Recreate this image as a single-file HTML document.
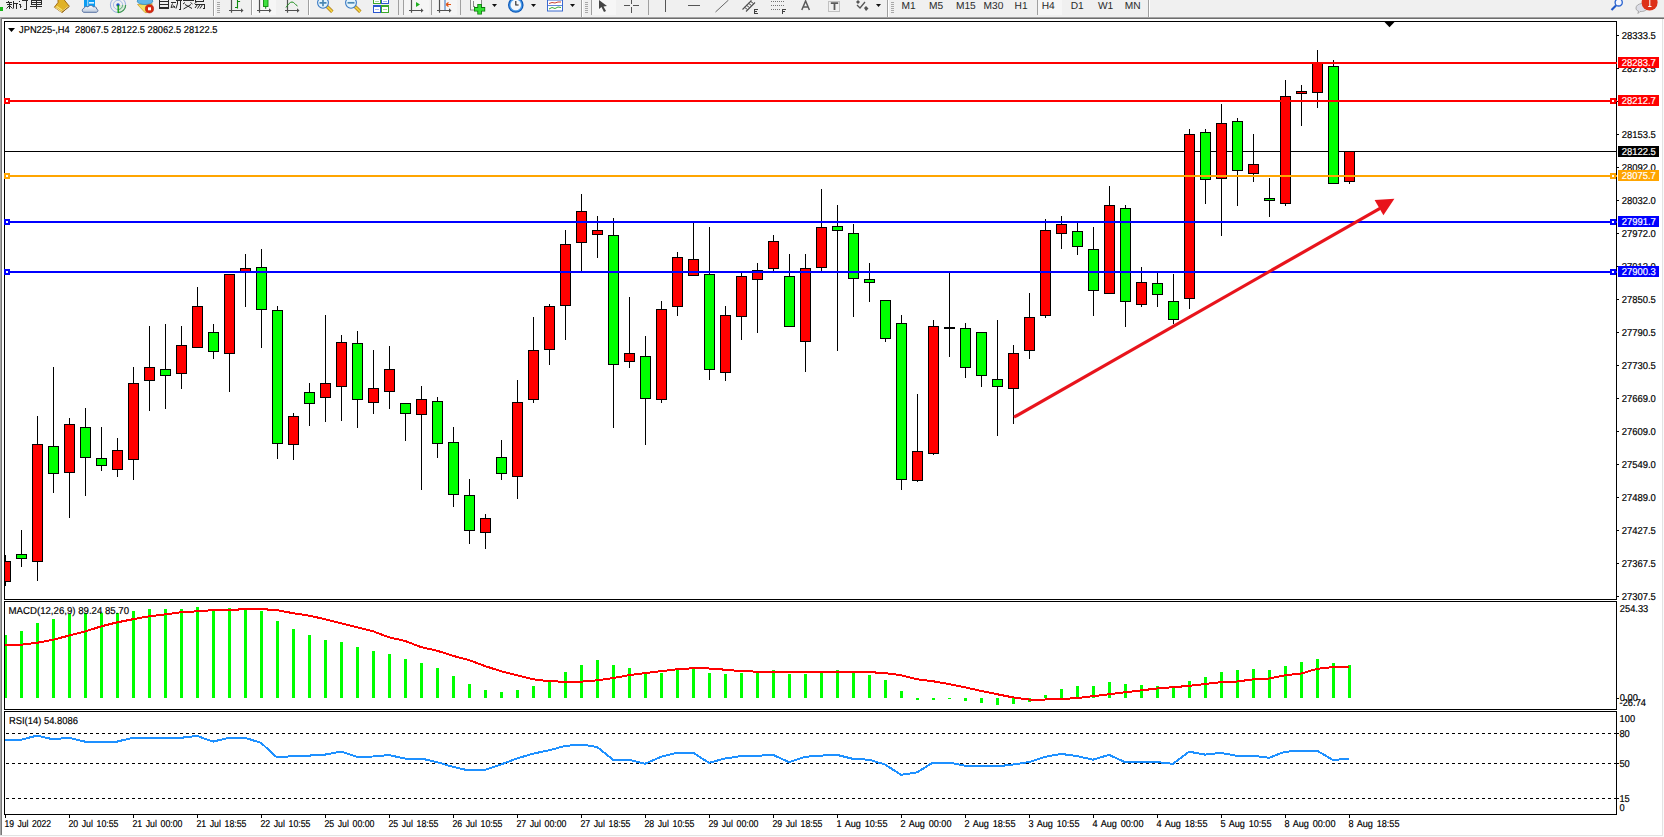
<!DOCTYPE html>
<html><head><meta charset="utf-8"><title>JPN225 H4</title>
<style>
html,body{margin:0;padding:0;background:#f0f0f0;}
body{width:1664px;height:837px;overflow:hidden;}
svg{display:block;font-family:"Liberation Sans", sans-serif;text-rendering:geometricPrecision;}
</style></head>
<body>
<svg width="1664" height="837" viewBox="0 0 1664 837" shape-rendering="crispEdges">
<rect x="0" y="0" width="1664" height="837" fill="#f0f0f0"/>
<rect x="0" y="17" width="1664" height="1" fill="#a3a3a3"/>
<rect x="0" y="18" width="1664" height="1" fill="#6d6d6d"/>
<rect x="0" y="19" width="1662" height="816" fill="#ffffff"/>
<rect x="0" y="17" width="1" height="818" fill="#a5a5a5"/>
<rect x="1" y="18" width="1" height="817" fill="#777777"/>
<rect x="1663" y="19" width="1" height="818" fill="#fbfbfb"/>
<rect x="0" y="836" width="1664" height="1" fill="#fbfbfb"/>
<rect x="1662" y="19" width="1" height="817" fill="#e3e3e3"/>
<rect x="0" y="835" width="1663" height="1" fill="#e3e3e3"/>
<rect x="4" y="21" width="1613" height="1" fill="#000"/>
<rect x="4" y="599" width="1613" height="1" fill="#000"/>
<rect x="4" y="21" width="1" height="579" fill="#000"/>
<rect x="1616" y="21" width="1" height="579" fill="#000"/>
<rect x="4" y="601" width="1613" height="1" fill="#000"/>
<rect x="4" y="709" width="1613" height="1" fill="#000"/>
<rect x="4" y="601" width="1" height="109" fill="#000"/>
<rect x="1616" y="601" width="1" height="109" fill="#000"/>
<rect x="4" y="711" width="1613" height="1" fill="#000"/>
<rect x="4" y="814" width="1613" height="1" fill="#000"/>
<rect x="4" y="711" width="1" height="104" fill="#000"/>
<rect x="1616" y="711" width="1" height="104" fill="#000"/>
<rect x="1617" y="35" width="2" height="1" fill="#000"/>
<text transform="translate(1621.7 39) scale(0.945 1)" font-size="10" fill="#000" stroke="#000" stroke-width="0.18" text-anchor="start">28333.5</text>
<rect x="1617" y="68" width="2" height="1" fill="#000"/>
<text transform="translate(1621.7 72) scale(0.945 1)" font-size="10" fill="#000" stroke="#000" stroke-width="0.18" text-anchor="start">28273.5</text>
<rect x="1617" y="101" width="2" height="1" fill="#000"/>
<text transform="translate(1621.7 105) scale(0.945 1)" font-size="10" fill="#000" stroke="#000" stroke-width="0.18" text-anchor="start">28213.5</text>
<rect x="1617" y="134" width="2" height="1" fill="#000"/>
<text transform="translate(1621.7 138) scale(0.945 1)" font-size="10" fill="#000" stroke="#000" stroke-width="0.18" text-anchor="start">28153.5</text>
<rect x="1617" y="167" width="2" height="1" fill="#000"/>
<text transform="translate(1621.7 171) scale(0.945 1)" font-size="10" fill="#000" stroke="#000" stroke-width="0.18" text-anchor="start">28092.0</text>
<rect x="1617" y="200" width="2" height="1" fill="#000"/>
<text transform="translate(1621.7 204) scale(0.945 1)" font-size="10" fill="#000" stroke="#000" stroke-width="0.18" text-anchor="start">28032.0</text>
<rect x="1617" y="233" width="2" height="1" fill="#000"/>
<text transform="translate(1621.7 237) scale(0.945 1)" font-size="10" fill="#000" stroke="#000" stroke-width="0.18" text-anchor="start">27972.0</text>
<rect x="1617" y="266" width="2" height="1" fill="#000"/>
<text transform="translate(1621.7 270) scale(0.945 1)" font-size="10" fill="#000" stroke="#000" stroke-width="0.18" text-anchor="start">27912.0</text>
<rect x="1617" y="299" width="2" height="1" fill="#000"/>
<text transform="translate(1621.7 303) scale(0.945 1)" font-size="10" fill="#000" stroke="#000" stroke-width="0.18" text-anchor="start">27850.5</text>
<rect x="1617" y="332" width="2" height="1" fill="#000"/>
<text transform="translate(1621.7 336) scale(0.945 1)" font-size="10" fill="#000" stroke="#000" stroke-width="0.18" text-anchor="start">27790.5</text>
<rect x="1617" y="365" width="2" height="1" fill="#000"/>
<text transform="translate(1621.7 369) scale(0.945 1)" font-size="10" fill="#000" stroke="#000" stroke-width="0.18" text-anchor="start">27730.5</text>
<rect x="1617" y="398" width="2" height="1" fill="#000"/>
<text transform="translate(1621.7 402) scale(0.945 1)" font-size="10" fill="#000" stroke="#000" stroke-width="0.18" text-anchor="start">27669.0</text>
<rect x="1617" y="431" width="2" height="1" fill="#000"/>
<text transform="translate(1621.7 435) scale(0.945 1)" font-size="10" fill="#000" stroke="#000" stroke-width="0.18" text-anchor="start">27609.0</text>
<rect x="1617" y="464" width="2" height="1" fill="#000"/>
<text transform="translate(1621.7 468) scale(0.945 1)" font-size="10" fill="#000" stroke="#000" stroke-width="0.18" text-anchor="start">27549.0</text>
<rect x="1617" y="497" width="2" height="1" fill="#000"/>
<text transform="translate(1621.7 501) scale(0.945 1)" font-size="10" fill="#000" stroke="#000" stroke-width="0.18" text-anchor="start">27489.0</text>
<rect x="1617" y="530" width="2" height="1" fill="#000"/>
<text transform="translate(1621.7 534) scale(0.945 1)" font-size="10" fill="#000" stroke="#000" stroke-width="0.18" text-anchor="start">27427.5</text>
<rect x="1617" y="563" width="2" height="1" fill="#000"/>
<text transform="translate(1621.7 567) scale(0.945 1)" font-size="10" fill="#000" stroke="#000" stroke-width="0.18" text-anchor="start">27367.5</text>
<rect x="1617" y="596" width="2" height="1" fill="#000"/>
<text transform="translate(1621.7 600) scale(0.945 1)" font-size="10" fill="#000" stroke="#000" stroke-width="0.18" text-anchor="start">27307.5</text>
<rect x="5" y="151" width="1611" height="1" fill="#000"/>
<rect x="5" y="555" width="1" height="31" fill="#000"/>
<rect x="5" y="561" width="6" height="21" fill="#000"/>
<rect x="5" y="562" width="5" height="19" fill="#ff0000"/>
<rect x="21" y="530" width="1" height="37" fill="#000"/>
<rect x="16" y="554" width="11" height="5" fill="#000"/>
<rect x="17" y="555" width="9" height="3" fill="#00ff00"/>
<rect x="37" y="416" width="1" height="165" fill="#000"/>
<rect x="32" y="444" width="11" height="118" fill="#000"/>
<rect x="33" y="445" width="9" height="116" fill="#ff0000"/>
<rect x="53" y="367" width="1" height="126" fill="#000"/>
<rect x="48" y="446" width="11" height="28" fill="#000"/>
<rect x="49" y="447" width="9" height="26" fill="#00ff00"/>
<rect x="69" y="418" width="1" height="100" fill="#000"/>
<rect x="64" y="424" width="11" height="49" fill="#000"/>
<rect x="65" y="425" width="9" height="47" fill="#ff0000"/>
<rect x="85" y="408" width="1" height="88" fill="#000"/>
<rect x="80" y="427" width="11" height="31" fill="#000"/>
<rect x="81" y="428" width="9" height="29" fill="#00ff00"/>
<rect x="101" y="427" width="1" height="44" fill="#000"/>
<rect x="96" y="458" width="11" height="8" fill="#000"/>
<rect x="97" y="459" width="9" height="6" fill="#00ff00"/>
<rect x="117" y="438" width="1" height="39" fill="#000"/>
<rect x="112" y="450" width="11" height="20" fill="#000"/>
<rect x="113" y="451" width="9" height="18" fill="#ff0000"/>
<rect x="133" y="367" width="1" height="113" fill="#000"/>
<rect x="128" y="383" width="11" height="77" fill="#000"/>
<rect x="129" y="384" width="9" height="75" fill="#ff0000"/>
<rect x="149" y="326" width="1" height="85" fill="#000"/>
<rect x="144" y="367" width="11" height="14" fill="#000"/>
<rect x="145" y="368" width="9" height="12" fill="#ff0000"/>
<rect x="165" y="324" width="1" height="85" fill="#000"/>
<rect x="160" y="369" width="11" height="7" fill="#000"/>
<rect x="161" y="370" width="9" height="5" fill="#00ff00"/>
<rect x="181" y="326" width="1" height="63" fill="#000"/>
<rect x="176" y="345" width="11" height="29" fill="#000"/>
<rect x="177" y="346" width="9" height="27" fill="#ff0000"/>
<rect x="197" y="287" width="1" height="61" fill="#000"/>
<rect x="192" y="306" width="11" height="42" fill="#000"/>
<rect x="193" y="307" width="9" height="40" fill="#ff0000"/>
<rect x="213" y="324" width="1" height="35" fill="#000"/>
<rect x="208" y="332" width="11" height="20" fill="#000"/>
<rect x="209" y="333" width="9" height="18" fill="#00ff00"/>
<rect x="229" y="274" width="1" height="118" fill="#000"/>
<rect x="224" y="274" width="11" height="80" fill="#000"/>
<rect x="225" y="275" width="9" height="78" fill="#ff0000"/>
<rect x="245" y="254" width="1" height="53" fill="#000"/>
<rect x="240" y="268" width="11" height="4" fill="#000"/>
<rect x="241" y="269" width="9" height="2" fill="#ff0000"/>
<rect x="261" y="249" width="1" height="99" fill="#000"/>
<rect x="256" y="267" width="11" height="43" fill="#000"/>
<rect x="257" y="268" width="9" height="41" fill="#00ff00"/>
<rect x="277" y="306" width="1" height="153" fill="#000"/>
<rect x="272" y="310" width="11" height="134" fill="#000"/>
<rect x="273" y="311" width="9" height="132" fill="#00ff00"/>
<rect x="293" y="413" width="1" height="47" fill="#000"/>
<rect x="288" y="416" width="11" height="29" fill="#000"/>
<rect x="289" y="417" width="9" height="27" fill="#ff0000"/>
<rect x="309" y="383" width="1" height="43" fill="#000"/>
<rect x="304" y="392" width="11" height="12" fill="#000"/>
<rect x="305" y="393" width="9" height="10" fill="#00ff00"/>
<rect x="325" y="315" width="1" height="107" fill="#000"/>
<rect x="320" y="383" width="11" height="15" fill="#000"/>
<rect x="321" y="384" width="9" height="13" fill="#ff0000"/>
<rect x="341" y="335" width="1" height="86" fill="#000"/>
<rect x="336" y="342" width="11" height="45" fill="#000"/>
<rect x="337" y="343" width="9" height="43" fill="#ff0000"/>
<rect x="357" y="331" width="1" height="97" fill="#000"/>
<rect x="352" y="343" width="11" height="57" fill="#000"/>
<rect x="353" y="344" width="9" height="55" fill="#00ff00"/>
<rect x="373" y="350" width="1" height="64" fill="#000"/>
<rect x="368" y="388" width="11" height="15" fill="#000"/>
<rect x="369" y="389" width="9" height="13" fill="#ff0000"/>
<rect x="389" y="346" width="1" height="63" fill="#000"/>
<rect x="384" y="369" width="11" height="23" fill="#000"/>
<rect x="385" y="370" width="9" height="21" fill="#ff0000"/>
<rect x="405" y="403" width="1" height="38" fill="#000"/>
<rect x="400" y="403" width="11" height="11" fill="#000"/>
<rect x="401" y="404" width="9" height="9" fill="#00ff00"/>
<rect x="421" y="386" width="1" height="104" fill="#000"/>
<rect x="416" y="399" width="11" height="16" fill="#000"/>
<rect x="417" y="400" width="9" height="14" fill="#ff0000"/>
<rect x="437" y="397" width="1" height="61" fill="#000"/>
<rect x="432" y="401" width="11" height="43" fill="#000"/>
<rect x="433" y="402" width="9" height="41" fill="#00ff00"/>
<rect x="453" y="427" width="1" height="80" fill="#000"/>
<rect x="448" y="442" width="11" height="53" fill="#000"/>
<rect x="449" y="443" width="9" height="51" fill="#00ff00"/>
<rect x="469" y="479" width="1" height="65" fill="#000"/>
<rect x="464" y="495" width="11" height="36" fill="#000"/>
<rect x="465" y="496" width="9" height="34" fill="#00ff00"/>
<rect x="485" y="514" width="1" height="35" fill="#000"/>
<rect x="480" y="518" width="11" height="15" fill="#000"/>
<rect x="481" y="519" width="9" height="13" fill="#ff0000"/>
<rect x="501" y="440" width="1" height="40" fill="#000"/>
<rect x="496" y="457" width="11" height="17" fill="#000"/>
<rect x="497" y="458" width="9" height="15" fill="#00ff00"/>
<rect x="517" y="380" width="1" height="119" fill="#000"/>
<rect x="512" y="402" width="11" height="75" fill="#000"/>
<rect x="513" y="403" width="9" height="73" fill="#ff0000"/>
<rect x="533" y="317" width="1" height="86" fill="#000"/>
<rect x="528" y="350" width="11" height="50" fill="#000"/>
<rect x="529" y="351" width="9" height="48" fill="#ff0000"/>
<rect x="549" y="304" width="1" height="61" fill="#000"/>
<rect x="544" y="306" width="11" height="44" fill="#000"/>
<rect x="545" y="307" width="9" height="42" fill="#ff0000"/>
<rect x="565" y="230" width="1" height="110" fill="#000"/>
<rect x="560" y="244" width="11" height="62" fill="#000"/>
<rect x="561" y="245" width="9" height="60" fill="#ff0000"/>
<rect x="581" y="194" width="1" height="78" fill="#000"/>
<rect x="576" y="211" width="11" height="32" fill="#000"/>
<rect x="577" y="212" width="9" height="30" fill="#ff0000"/>
<rect x="597" y="216" width="1" height="42" fill="#000"/>
<rect x="592" y="230" width="11" height="5" fill="#000"/>
<rect x="593" y="231" width="9" height="3" fill="#ff0000"/>
<rect x="613" y="218" width="1" height="210" fill="#000"/>
<rect x="608" y="235" width="11" height="130" fill="#000"/>
<rect x="609" y="236" width="9" height="128" fill="#00ff00"/>
<rect x="629" y="297" width="1" height="71" fill="#000"/>
<rect x="624" y="353" width="11" height="9" fill="#000"/>
<rect x="625" y="354" width="9" height="7" fill="#ff0000"/>
<rect x="645" y="336" width="1" height="109" fill="#000"/>
<rect x="640" y="356" width="11" height="43" fill="#000"/>
<rect x="641" y="357" width="9" height="41" fill="#00ff00"/>
<rect x="661" y="301" width="1" height="102" fill="#000"/>
<rect x="656" y="309" width="11" height="91" fill="#000"/>
<rect x="657" y="310" width="9" height="89" fill="#ff0000"/>
<rect x="677" y="252" width="1" height="64" fill="#000"/>
<rect x="672" y="257" width="11" height="50" fill="#000"/>
<rect x="673" y="258" width="9" height="48" fill="#ff0000"/>
<rect x="693" y="222" width="1" height="54" fill="#000"/>
<rect x="688" y="259" width="11" height="17" fill="#000"/>
<rect x="689" y="260" width="9" height="15" fill="#ff0000"/>
<rect x="709" y="227" width="1" height="153" fill="#000"/>
<rect x="704" y="274" width="11" height="96" fill="#000"/>
<rect x="705" y="275" width="9" height="94" fill="#00ff00"/>
<rect x="725" y="306" width="1" height="75" fill="#000"/>
<rect x="720" y="315" width="11" height="58" fill="#000"/>
<rect x="721" y="316" width="9" height="56" fill="#ff0000"/>
<rect x="741" y="272" width="1" height="68" fill="#000"/>
<rect x="736" y="276" width="11" height="41" fill="#000"/>
<rect x="737" y="277" width="9" height="39" fill="#ff0000"/>
<rect x="757" y="263" width="1" height="70" fill="#000"/>
<rect x="752" y="270" width="11" height="10" fill="#000"/>
<rect x="753" y="271" width="9" height="8" fill="#ff0000"/>
<rect x="773" y="235" width="1" height="36" fill="#000"/>
<rect x="768" y="241" width="11" height="28" fill="#000"/>
<rect x="769" y="242" width="9" height="26" fill="#ff0000"/>
<rect x="789" y="254" width="1" height="73" fill="#000"/>
<rect x="784" y="276" width="11" height="51" fill="#000"/>
<rect x="785" y="277" width="9" height="49" fill="#00ff00"/>
<rect x="805" y="254" width="1" height="118" fill="#000"/>
<rect x="800" y="268" width="11" height="74" fill="#000"/>
<rect x="801" y="269" width="9" height="72" fill="#ff0000"/>
<rect x="821" y="189" width="1" height="82" fill="#000"/>
<rect x="816" y="227" width="11" height="41" fill="#000"/>
<rect x="817" y="228" width="9" height="39" fill="#ff0000"/>
<rect x="837" y="205" width="1" height="146" fill="#000"/>
<rect x="832" y="226" width="11" height="5" fill="#000"/>
<rect x="833" y="227" width="9" height="3" fill="#00ff00"/>
<rect x="853" y="224" width="1" height="93" fill="#000"/>
<rect x="848" y="233" width="11" height="46" fill="#000"/>
<rect x="849" y="234" width="9" height="44" fill="#00ff00"/>
<rect x="869" y="263" width="1" height="39" fill="#000"/>
<rect x="864" y="279" width="11" height="4" fill="#000"/>
<rect x="865" y="280" width="9" height="2" fill="#00ff00"/>
<rect x="885" y="300" width="1" height="42" fill="#000"/>
<rect x="880" y="300" width="11" height="39" fill="#000"/>
<rect x="881" y="301" width="9" height="37" fill="#00ff00"/>
<rect x="901" y="315" width="1" height="175" fill="#000"/>
<rect x="896" y="323" width="11" height="157" fill="#000"/>
<rect x="897" y="324" width="9" height="155" fill="#00ff00"/>
<rect x="917" y="394" width="1" height="88" fill="#000"/>
<rect x="912" y="451" width="11" height="30" fill="#000"/>
<rect x="913" y="452" width="9" height="28" fill="#ff0000"/>
<rect x="933" y="320" width="1" height="135" fill="#000"/>
<rect x="928" y="326" width="11" height="128" fill="#000"/>
<rect x="929" y="327" width="9" height="126" fill="#ff0000"/>
<rect x="949" y="272" width="1" height="85" fill="#000"/>
<rect x="944" y="327" width="11" height="2" fill="#000"/>
<rect x="965" y="323" width="1" height="55" fill="#000"/>
<rect x="960" y="328" width="11" height="40" fill="#000"/>
<rect x="961" y="329" width="9" height="38" fill="#00ff00"/>
<rect x="981" y="332" width="1" height="55" fill="#000"/>
<rect x="976" y="332" width="11" height="44" fill="#000"/>
<rect x="977" y="333" width="9" height="42" fill="#00ff00"/>
<rect x="997" y="320" width="1" height="116" fill="#000"/>
<rect x="992" y="379" width="11" height="8" fill="#000"/>
<rect x="993" y="380" width="9" height="6" fill="#00ff00"/>
<rect x="1013" y="345" width="1" height="79" fill="#000"/>
<rect x="1008" y="353" width="11" height="36" fill="#000"/>
<rect x="1009" y="354" width="9" height="34" fill="#ff0000"/>
<rect x="1029" y="293" width="1" height="66" fill="#000"/>
<rect x="1024" y="317" width="11" height="34" fill="#000"/>
<rect x="1025" y="318" width="9" height="32" fill="#ff0000"/>
<rect x="1045" y="219" width="1" height="99" fill="#000"/>
<rect x="1040" y="230" width="11" height="86" fill="#000"/>
<rect x="1041" y="231" width="9" height="84" fill="#ff0000"/>
<rect x="1061" y="216" width="1" height="33" fill="#000"/>
<rect x="1056" y="224" width="11" height="10" fill="#000"/>
<rect x="1057" y="225" width="9" height="8" fill="#ff0000"/>
<rect x="1077" y="223" width="1" height="32" fill="#000"/>
<rect x="1072" y="231" width="11" height="16" fill="#000"/>
<rect x="1073" y="232" width="9" height="14" fill="#00ff00"/>
<rect x="1093" y="227" width="1" height="89" fill="#000"/>
<rect x="1088" y="249" width="11" height="42" fill="#000"/>
<rect x="1089" y="250" width="9" height="40" fill="#00ff00"/>
<rect x="1109" y="186" width="1" height="108" fill="#000"/>
<rect x="1104" y="205" width="11" height="89" fill="#000"/>
<rect x="1105" y="206" width="9" height="87" fill="#ff0000"/>
<rect x="1125" y="205" width="1" height="122" fill="#000"/>
<rect x="1120" y="208" width="11" height="94" fill="#000"/>
<rect x="1121" y="209" width="9" height="92" fill="#00ff00"/>
<rect x="1141" y="267" width="1" height="40" fill="#000"/>
<rect x="1136" y="282" width="11" height="23" fill="#000"/>
<rect x="1137" y="283" width="9" height="21" fill="#ff0000"/>
<rect x="1157" y="273" width="1" height="34" fill="#000"/>
<rect x="1152" y="283" width="11" height="12" fill="#000"/>
<rect x="1153" y="284" width="9" height="10" fill="#00ff00"/>
<rect x="1173" y="274" width="1" height="50" fill="#000"/>
<rect x="1168" y="301" width="11" height="19" fill="#000"/>
<rect x="1169" y="302" width="9" height="17" fill="#00ff00"/>
<rect x="1189" y="129" width="1" height="180" fill="#000"/>
<rect x="1184" y="134" width="11" height="165" fill="#000"/>
<rect x="1185" y="135" width="9" height="163" fill="#ff0000"/>
<rect x="1205" y="129" width="1" height="75" fill="#000"/>
<rect x="1200" y="132" width="11" height="48" fill="#000"/>
<rect x="1201" y="133" width="9" height="46" fill="#00ff00"/>
<rect x="1221" y="104" width="1" height="132" fill="#000"/>
<rect x="1216" y="123" width="11" height="56" fill="#000"/>
<rect x="1217" y="124" width="9" height="54" fill="#ff0000"/>
<rect x="1237" y="118" width="1" height="88" fill="#000"/>
<rect x="1232" y="121" width="11" height="50" fill="#000"/>
<rect x="1233" y="122" width="9" height="48" fill="#00ff00"/>
<rect x="1253" y="134" width="1" height="48" fill="#000"/>
<rect x="1248" y="164" width="11" height="10" fill="#000"/>
<rect x="1249" y="165" width="9" height="8" fill="#ff0000"/>
<rect x="1269" y="178" width="1" height="39" fill="#000"/>
<rect x="1264" y="198" width="11" height="3" fill="#000"/>
<rect x="1265" y="199" width="9" height="1" fill="#00ff00"/>
<rect x="1285" y="80" width="1" height="126" fill="#000"/>
<rect x="1280" y="96" width="11" height="108" fill="#000"/>
<rect x="1281" y="97" width="9" height="106" fill="#ff0000"/>
<rect x="1301" y="85" width="1" height="41" fill="#000"/>
<rect x="1296" y="91" width="11" height="3" fill="#000"/>
<rect x="1297" y="92" width="9" height="1" fill="#ff0000"/>
<rect x="1317" y="50" width="1" height="58" fill="#000"/>
<rect x="1312" y="63" width="11" height="30" fill="#000"/>
<rect x="1313" y="64" width="9" height="28" fill="#ff0000"/>
<rect x="1333" y="60" width="1" height="124" fill="#000"/>
<rect x="1328" y="66" width="11" height="118" fill="#000"/>
<rect x="1329" y="67" width="9" height="116" fill="#00ff00"/>
<rect x="1349" y="151" width="1" height="33" fill="#000"/>
<rect x="1344" y="151" width="11" height="31" fill="#000"/>
<rect x="1345" y="152" width="9" height="29" fill="#ff0000"/>
<rect x="5" y="62" width="1612" height="2" fill="#ff0000"/>
<rect x="5" y="100" width="1612" height="2" fill="#ff0000"/>
<rect x="4" y="98" width="6" height="6" fill="#ff0000"/>
<rect x="6" y="100" width="2" height="2" fill="#fff"/>
<rect x="1610" y="98" width="6" height="6" fill="#ff0000"/>
<rect x="1612" y="100" width="2" height="2" fill="#fff"/>
<rect x="5" y="175" width="1612" height="2" fill="#ffa500"/>
<rect x="4" y="173" width="6" height="6" fill="#ffa500"/>
<rect x="6" y="175" width="2" height="2" fill="#fff"/>
<rect x="1610" y="173" width="6" height="6" fill="#ffa500"/>
<rect x="1612" y="175" width="2" height="2" fill="#fff"/>
<rect x="5" y="221" width="1612" height="2" fill="#0000ff"/>
<rect x="4" y="219" width="6" height="6" fill="#0000ff"/>
<rect x="6" y="221" width="2" height="2" fill="#fff"/>
<rect x="1610" y="219" width="6" height="6" fill="#0000ff"/>
<rect x="1612" y="221" width="2" height="2" fill="#fff"/>
<rect x="5" y="271" width="1612" height="2" fill="#0000ff"/>
<rect x="4" y="269" width="6" height="6" fill="#0000ff"/>
<rect x="6" y="271" width="2" height="2" fill="#fff"/>
<rect x="1610" y="269" width="6" height="6" fill="#0000ff"/>
<rect x="1612" y="271" width="2" height="2" fill="#fff"/>
<g shape-rendering="auto">
<line x1="1014" y1="417.2" x2="1380" y2="208.4" stroke="#e8141c" stroke-width="3.2"/>
<polygon points="1374.6,200 1394.4,198.8 1383.4,215.2" fill="#e8141c"/>
</g>
<polygon points="1384.5,22 1394.5,22 1389.5,27.3" fill="#000" shape-rendering="auto"/>
<rect x="1618" y="57" width="41" height="11" fill="#ff0000"/>
<text transform="translate(1621.7 66) scale(0.945 1)" font-size="10" fill="#fff" stroke="#fff" stroke-width="0.18" text-anchor="start">28283.7</text>
<rect x="1618" y="95" width="41" height="11" fill="#ff0000"/>
<text transform="translate(1621.7 104) scale(0.945 1)" font-size="10" fill="#fff" stroke="#fff" stroke-width="0.18" text-anchor="start">28212.7</text>
<rect x="1618" y="146" width="41" height="11" fill="#000000"/>
<text transform="translate(1621.7 155) scale(0.945 1)" font-size="10" fill="#fff" stroke="#fff" stroke-width="0.18" text-anchor="start">28122.5</text>
<rect x="1618" y="170" width="41" height="11" fill="#ffa500"/>
<text transform="translate(1621.7 179) scale(0.945 1)" font-size="10" fill="#fff" stroke="#fff" stroke-width="0.18" text-anchor="start">28075.7</text>
<rect x="1618" y="216" width="41" height="11" fill="#0000ff"/>
<text transform="translate(1621.7 225) scale(0.945 1)" font-size="10" fill="#fff" stroke="#fff" stroke-width="0.18" text-anchor="start">27991.7</text>
<rect x="1618" y="266" width="41" height="11" fill="#0000ff"/>
<text transform="translate(1621.7 275) scale(0.945 1)" font-size="10" fill="#fff" stroke="#fff" stroke-width="0.18" text-anchor="start">27900.3</text>
<polygon points="8,28 15,28 11.5,32" fill="#000" shape-rendering="auto"/>
<text transform="translate(19.0 33) scale(0.932 1)" font-size="10" fill="#000" stroke="#000" stroke-width="0.18" text-anchor="start">JPN225-,H4&#160;&#160;28067.5 28122.5 28062.5 28122.5</text>
<rect x="5" y="635" width="2" height="63" fill="#00ff00"/>
<rect x="20" y="631" width="3" height="67" fill="#00ff00"/>
<rect x="36" y="623" width="3" height="75" fill="#00ff00"/>
<rect x="52" y="619" width="3" height="79" fill="#00ff00"/>
<rect x="68" y="614" width="3" height="84" fill="#00ff00"/>
<rect x="84" y="613" width="3" height="85" fill="#00ff00"/>
<rect x="100" y="613" width="3" height="85" fill="#00ff00"/>
<rect x="116" y="613" width="3" height="85" fill="#00ff00"/>
<rect x="132" y="611" width="3" height="87" fill="#00ff00"/>
<rect x="148" y="609" width="3" height="89" fill="#00ff00"/>
<rect x="164" y="609" width="3" height="89" fill="#00ff00"/>
<rect x="180" y="609" width="3" height="89" fill="#00ff00"/>
<rect x="196" y="607" width="3" height="91" fill="#00ff00"/>
<rect x="212" y="611" width="3" height="87" fill="#00ff00"/>
<rect x="228" y="608" width="3" height="90" fill="#00ff00"/>
<rect x="244" y="608" width="3" height="90" fill="#00ff00"/>
<rect x="260" y="611" width="3" height="87" fill="#00ff00"/>
<rect x="276" y="621" width="3" height="77" fill="#00ff00"/>
<rect x="292" y="629" width="3" height="69" fill="#00ff00"/>
<rect x="308" y="635" width="3" height="63" fill="#00ff00"/>
<rect x="324" y="640" width="3" height="58" fill="#00ff00"/>
<rect x="340" y="642" width="3" height="56" fill="#00ff00"/>
<rect x="356" y="647" width="3" height="51" fill="#00ff00"/>
<rect x="372" y="651" width="3" height="47" fill="#00ff00"/>
<rect x="388" y="654" width="3" height="44" fill="#00ff00"/>
<rect x="404" y="659" width="3" height="39" fill="#00ff00"/>
<rect x="420" y="663" width="3" height="35" fill="#00ff00"/>
<rect x="436" y="668" width="3" height="30" fill="#00ff00"/>
<rect x="452" y="676" width="3" height="22" fill="#00ff00"/>
<rect x="468" y="684" width="3" height="14" fill="#00ff00"/>
<rect x="484" y="690" width="3" height="8" fill="#00ff00"/>
<rect x="500" y="692" width="3" height="6" fill="#00ff00"/>
<rect x="516" y="690" width="3" height="8" fill="#00ff00"/>
<rect x="532" y="686" width="3" height="12" fill="#00ff00"/>
<rect x="548" y="680" width="3" height="18" fill="#00ff00"/>
<rect x="564" y="672" width="3" height="26" fill="#00ff00"/>
<rect x="580" y="665" width="3" height="33" fill="#00ff00"/>
<rect x="596" y="660" width="3" height="38" fill="#00ff00"/>
<rect x="612" y="665" width="3" height="33" fill="#00ff00"/>
<rect x="628" y="668" width="3" height="30" fill="#00ff00"/>
<rect x="644" y="674" width="3" height="24" fill="#00ff00"/>
<rect x="660" y="673" width="3" height="25" fill="#00ff00"/>
<rect x="676" y="670" width="3" height="28" fill="#00ff00"/>
<rect x="692" y="669" width="3" height="29" fill="#00ff00"/>
<rect x="708" y="673" width="3" height="25" fill="#00ff00"/>
<rect x="724" y="674" width="3" height="24" fill="#00ff00"/>
<rect x="740" y="673" width="3" height="25" fill="#00ff00"/>
<rect x="756" y="672" width="3" height="26" fill="#00ff00"/>
<rect x="772" y="670" width="3" height="28" fill="#00ff00"/>
<rect x="788" y="674" width="3" height="24" fill="#00ff00"/>
<rect x="804" y="674" width="3" height="24" fill="#00ff00"/>
<rect x="820" y="672" width="3" height="26" fill="#00ff00"/>
<rect x="836" y="670" width="3" height="28" fill="#00ff00"/>
<rect x="852" y="672" width="3" height="26" fill="#00ff00"/>
<rect x="868" y="675" width="3" height="23" fill="#00ff00"/>
<rect x="884" y="680" width="3" height="18" fill="#00ff00"/>
<rect x="900" y="691" width="3" height="7" fill="#00ff00"/>
<rect x="916" y="698" width="3" height="2" fill="#00ff00"/>
<rect x="932" y="698" width="3" height="2" fill="#00ff00"/>
<rect x="948" y="698" width="3" height="1" fill="#00ff00"/>
<rect x="964" y="698" width="3" height="3" fill="#00ff00"/>
<rect x="980" y="698" width="3" height="5" fill="#00ff00"/>
<rect x="996" y="698" width="3" height="7" fill="#00ff00"/>
<rect x="1012" y="698" width="3" height="6" fill="#00ff00"/>
<rect x="1028" y="698" width="3" height="4" fill="#00ff00"/>
<rect x="1044" y="695" width="3" height="3" fill="#00ff00"/>
<rect x="1060" y="689" width="3" height="9" fill="#00ff00"/>
<rect x="1076" y="686" width="3" height="12" fill="#00ff00"/>
<rect x="1092" y="686" width="3" height="12" fill="#00ff00"/>
<rect x="1108" y="682" width="3" height="16" fill="#00ff00"/>
<rect x="1124" y="684" width="3" height="14" fill="#00ff00"/>
<rect x="1140" y="685" width="3" height="13" fill="#00ff00"/>
<rect x="1156" y="686" width="3" height="12" fill="#00ff00"/>
<rect x="1172" y="688" width="3" height="10" fill="#00ff00"/>
<rect x="1188" y="681" width="3" height="17" fill="#00ff00"/>
<rect x="1204" y="677" width="3" height="21" fill="#00ff00"/>
<rect x="1220" y="672" width="3" height="26" fill="#00ff00"/>
<rect x="1236" y="670" width="3" height="28" fill="#00ff00"/>
<rect x="1252" y="669" width="3" height="29" fill="#00ff00"/>
<rect x="1268" y="670" width="3" height="28" fill="#00ff00"/>
<rect x="1284" y="666" width="3" height="32" fill="#00ff00"/>
<rect x="1300" y="662" width="3" height="36" fill="#00ff00"/>
<rect x="1316" y="659" width="3" height="39" fill="#00ff00"/>
<rect x="1332" y="663" width="3" height="35" fill="#00ff00"/>
<rect x="1348" y="665" width="3" height="33" fill="#00ff00"/>
<polyline points="5,644.7 21,644.7 37,642.8 53,639.7 69,635.6 85,631.5 101,626.4 117,622.4 133,619.2 149,616.3 165,614.4 181,612.3 197,611.3 213,610.1 229,610.1 245,609.1 261,609.1 277,610.1 293,613.2 309,615.6 325,619.2 341,623.3 357,627.2 373,631.25 389,637.3 405,640.9 421,647.1 437,650.7 453,655.8 469,660.1 485,666.1 501,671.2 517,675.2 533,679.3 549,681.25 565,681.7 581,681.7 597,680.3 613,678.1 629,675.2 645,673.1 661,671.2 677,669.2 693,668.3 709,668.5 725,669.7 741,671.2 757,671.6 773,671.6 789,671.6 805,671.6 821,671.6 837,671.6 853,671.6 869,672.1 885,673.1 901,675.2 917,679.3 933,681.25 949,684.1 965,687.3 981,690.9 997,694.2 1013,697.4 1029,699.5 1045,699.5 1061,699 1077,698.1 1093,696.2 1109,694.2 1125,692.3 1141,690.4 1157,688.5 1173,687.2 1189,685.9 1205,684 1221,682.1 1237,681.5 1253,679.4 1269,678.5 1285,675.3 1301,673.6 1317,668.8 1333,667.1 1349,666.7" fill="none" stroke="#ff0000" stroke-width="2" shape-rendering="crispEdges"/>
<text transform="translate(8.6 614) scale(0.963 1)" font-size="10" fill="#000" stroke="#000" stroke-width="0.18" text-anchor="start">MACD(12,26,9) 89.24 85.70</text>
<text transform="translate(1619.8 611.6) scale(0.93 1)" font-size="10" fill="#000" stroke="#000" stroke-width="0.18" text-anchor="start">254.33</text>
<rect x="1617" y="698" width="2" height="1" fill="#000"/>
<text transform="translate(1619.8 700.8) scale(0.93 1)" font-size="10" fill="#000" stroke="#000" stroke-width="0.18" text-anchor="start">0.00</text>
<text transform="translate(1619.6 705.8) scale(0.93 1)" font-size="10" fill="#000" stroke="#000" stroke-width="0.18" text-anchor="start">-26.74</text>
<line x1="6" y1="733.5" x2="1616" y2="733.5" stroke="#000" stroke-width="1" stroke-dasharray="3,3"/>
<rect x="1617" y="733" width="2" height="1" fill="#000"/>
<text transform="translate(1619.4 737) scale(0.93 1)" font-size="10" fill="#000" stroke="#000" stroke-width="0.18" text-anchor="start">80</text>
<line x1="6" y1="763.5" x2="1616" y2="763.5" stroke="#000" stroke-width="1" stroke-dasharray="3,3"/>
<rect x="1617" y="763" width="2" height="1" fill="#000"/>
<text transform="translate(1619.4 767) scale(0.93 1)" font-size="10" fill="#000" stroke="#000" stroke-width="0.18" text-anchor="start">50</text>
<line x1="6" y1="798.5" x2="1616" y2="798.5" stroke="#000" stroke-width="1" stroke-dasharray="3,3"/>
<rect x="1617" y="798" width="2" height="1" fill="#000"/>
<text transform="translate(1619.4 802) scale(0.93 1)" font-size="10" fill="#000" stroke="#000" stroke-width="0.18" text-anchor="start">15</text>
<text transform="translate(1619.6 722) scale(0.93 1)" font-size="10" fill="#000" stroke="#000" stroke-width="0.18" text-anchor="start">100</text>
<text transform="translate(1619.6 810.6) scale(0.93 1)" font-size="10" fill="#000" stroke="#000" stroke-width="0.18" text-anchor="start">0</text>
<polyline points="5,739.7 21,739.7 37,735.6 53,739.3 69,737.8 85,741.6 101,741.6 117,741.6 133,737.8 149,737.8 165,737.8 181,737.8 197,735.9 213,741.6 229,737.8 245,737.8 261,742.8 277,757.5 293,756.1 309,755.6 325,754.6 341,751.5 357,756.8 373,756.5 389,755.1 405,758.5 421,758.5 437,762.1 453,766.9 469,770.5 485,769.8 501,764.5 517,758.5 533,753.7 549,750.3 565,746 581,744.5 597,746.9 613,759.7 629,759.7 645,763.75 661,756.8 677,752.7 693,752.7 709,762.8 725,758.5 741,756.1 757,755.8 773,754.9 789,762.1 805,756.8 821,755.6 837,754.9 853,758.9 869,759.7 885,764.5 901,774.8 917,772.4 933,762.5 949,762.5 965,765.7 981,766.4 997,766.4 1013,764.5 1029,762.1 1045,756.8 1061,753.9 1077,756.1 1093,759.7 1109,754.9 1125,762.1 1141,762.1 1157,762.1 1173,763.8 1189,751.7 1205,754.6 1221,752.9 1237,755.8 1253,755.8 1269,757.8 1285,751.7 1301,751 1317,750.7 1333,760 1349,758.7" fill="none" stroke="#1e90ff" stroke-width="2" shape-rendering="crispEdges"/>
<text transform="translate(8.9 724) scale(0.94 1)" font-size="10" fill="#000" stroke="#000" stroke-width="0.18" text-anchor="start">RSI(14) 54.8086</text>
<rect x="5" y="815" width="1" height="3" fill="#000"/>
<text x="4.4" y="827" font-size="10" fill="#000" stroke="#000" stroke-width="0.18" word-spacing="1.3" textLength="46.6" lengthAdjust="spacingAndGlyphs">19 Jul 2022</text>
<rect x="69" y="815" width="1" height="3" fill="#000"/>
<text x="68.4" y="827" font-size="10" fill="#000" stroke="#000" stroke-width="0.18" word-spacing="1.3" textLength="50.1" lengthAdjust="spacingAndGlyphs">20 Jul 10:55</text>
<rect x="133" y="815" width="1" height="3" fill="#000"/>
<text x="132.4" y="827" font-size="10" fill="#000" stroke="#000" stroke-width="0.18" word-spacing="1.3" textLength="50.1" lengthAdjust="spacingAndGlyphs">21 Jul 00:00</text>
<rect x="197" y="815" width="1" height="3" fill="#000"/>
<text x="196.4" y="827" font-size="10" fill="#000" stroke="#000" stroke-width="0.18" word-spacing="1.3" textLength="50.1" lengthAdjust="spacingAndGlyphs">21 Jul 18:55</text>
<rect x="261" y="815" width="1" height="3" fill="#000"/>
<text x="260.4" y="827" font-size="10" fill="#000" stroke="#000" stroke-width="0.18" word-spacing="1.3" textLength="50.1" lengthAdjust="spacingAndGlyphs">22 Jul 10:55</text>
<rect x="325" y="815" width="1" height="3" fill="#000"/>
<text x="324.4" y="827" font-size="10" fill="#000" stroke="#000" stroke-width="0.18" word-spacing="1.3" textLength="50.1" lengthAdjust="spacingAndGlyphs">25 Jul 00:00</text>
<rect x="389" y="815" width="1" height="3" fill="#000"/>
<text x="388.4" y="827" font-size="10" fill="#000" stroke="#000" stroke-width="0.18" word-spacing="1.3" textLength="50.1" lengthAdjust="spacingAndGlyphs">25 Jul 18:55</text>
<rect x="453" y="815" width="1" height="3" fill="#000"/>
<text x="452.4" y="827" font-size="10" fill="#000" stroke="#000" stroke-width="0.18" word-spacing="1.3" textLength="50.1" lengthAdjust="spacingAndGlyphs">26 Jul 10:55</text>
<rect x="517" y="815" width="1" height="3" fill="#000"/>
<text x="516.4" y="827" font-size="10" fill="#000" stroke="#000" stroke-width="0.18" word-spacing="1.3" textLength="50.1" lengthAdjust="spacingAndGlyphs">27 Jul 00:00</text>
<rect x="581" y="815" width="1" height="3" fill="#000"/>
<text x="580.4" y="827" font-size="10" fill="#000" stroke="#000" stroke-width="0.18" word-spacing="1.3" textLength="50.1" lengthAdjust="spacingAndGlyphs">27 Jul 18:55</text>
<rect x="645" y="815" width="1" height="3" fill="#000"/>
<text x="644.4" y="827" font-size="10" fill="#000" stroke="#000" stroke-width="0.18" word-spacing="1.3" textLength="50.1" lengthAdjust="spacingAndGlyphs">28 Jul 10:55</text>
<rect x="709" y="815" width="1" height="3" fill="#000"/>
<text x="708.4" y="827" font-size="10" fill="#000" stroke="#000" stroke-width="0.18" word-spacing="1.3" textLength="50.1" lengthAdjust="spacingAndGlyphs">29 Jul 00:00</text>
<rect x="773" y="815" width="1" height="3" fill="#000"/>
<text x="772.4" y="827" font-size="10" fill="#000" stroke="#000" stroke-width="0.18" word-spacing="1.3" textLength="50.1" lengthAdjust="spacingAndGlyphs">29 Jul 18:55</text>
<rect x="837" y="815" width="1" height="3" fill="#000"/>
<text x="836.4" y="827" font-size="10" fill="#000" stroke="#000" stroke-width="0.18" word-spacing="1.3" textLength="51.1" lengthAdjust="spacingAndGlyphs">1 Aug 10:55</text>
<rect x="901" y="815" width="1" height="3" fill="#000"/>
<text x="900.4" y="827" font-size="10" fill="#000" stroke="#000" stroke-width="0.18" word-spacing="1.3" textLength="51.1" lengthAdjust="spacingAndGlyphs">2 Aug 00:00</text>
<rect x="965" y="815" width="1" height="3" fill="#000"/>
<text x="964.4" y="827" font-size="10" fill="#000" stroke="#000" stroke-width="0.18" word-spacing="1.3" textLength="51.1" lengthAdjust="spacingAndGlyphs">2 Aug 18:55</text>
<rect x="1029" y="815" width="1" height="3" fill="#000"/>
<text x="1028.4" y="827" font-size="10" fill="#000" stroke="#000" stroke-width="0.18" word-spacing="1.3" textLength="51.1" lengthAdjust="spacingAndGlyphs">3 Aug 10:55</text>
<rect x="1093" y="815" width="1" height="3" fill="#000"/>
<text x="1092.4" y="827" font-size="10" fill="#000" stroke="#000" stroke-width="0.18" word-spacing="1.3" textLength="51.1" lengthAdjust="spacingAndGlyphs">4 Aug 00:00</text>
<rect x="1157" y="815" width="1" height="3" fill="#000"/>
<text x="1156.4" y="827" font-size="10" fill="#000" stroke="#000" stroke-width="0.18" word-spacing="1.3" textLength="51.1" lengthAdjust="spacingAndGlyphs">4 Aug 18:55</text>
<rect x="1221" y="815" width="1" height="3" fill="#000"/>
<text x="1220.4" y="827" font-size="10" fill="#000" stroke="#000" stroke-width="0.18" word-spacing="1.3" textLength="51.1" lengthAdjust="spacingAndGlyphs">5 Aug 10:55</text>
<rect x="1285" y="815" width="1" height="3" fill="#000"/>
<text x="1284.4" y="827" font-size="10" fill="#000" stroke="#000" stroke-width="0.18" word-spacing="1.3" textLength="51.1" lengthAdjust="spacingAndGlyphs">8 Aug 00:00</text>
<rect x="1349" y="815" width="1" height="3" fill="#000"/>
<text x="1348.4" y="827" font-size="10" fill="#000" stroke="#000" stroke-width="0.18" word-spacing="1.3" textLength="51.1" lengthAdjust="spacingAndGlyphs">8 Aug 18:55</text>
<g id="toolbar" shape-rendering="auto">
<!-- green square at far left -->
<rect x="0" y="7" width="3" height="4" fill="#18b818" shape-rendering="crispEdges"/>
<!-- CJK "new order" approximated with strokes -->
<g stroke="#1a1a1a" stroke-width="1" fill="none" shape-rendering="crispEdges" opacity="0.92">
  <path d="M6,2.5h6 M7,4.5h5 M9.5,2.5v6.5 M8,0.5v1.5"/>
  <path d="M9.5,5.5l-3,3 M9.5,5.5l2.5,2.5" shape-rendering="auto"/>
  <path d="M13.5,0.5v7.5 M13.5,3.5h4.5 M16.5,3.5v5.5"/>
  <path d="M13.5,8l-1,1" shape-rendering="auto"/>
  <path d="M19.5,0.5v1 M19,4.5h1v3.5"/>
  <path d="M20,8l1.5,-1.5" shape-rendering="auto"/>
  <path d="M22,0.5h6 M26.5,0.5v8.5h-3"/>
  <path d="M31,-1v5.5h10v-5.5 M31,0.5h10 M31,2.5h10 M36,-1v10 M30,6.5h12"/>
</g>
<!-- book icon -->
<path d="M58,-1 L63.5,-1 L69.3,6.3 L62,12.6 L54.4,7.2 L58,2.5 Z" fill="#e0b228" stroke="#9a620c" stroke-width="0.9"/>
<path d="M55.5,7.5 L61.5,11.8 L68.8,6.2" fill="none" stroke="#f6e7a8" stroke-width="1"/>
<path d="M56.5,6.2 L62,10" fill="none" stroke="#f8e070" stroke-width="1.2"/>
<path d="M62,12.2 L69.2,6.5" fill="none" stroke="#8a5a10" stroke-width="0.8"/>
<!-- cloud / signal book -->
<rect x="84" y="-1" width="11" height="8" fill="#0c9cf2"/>
<rect x="87.4" y="-1" width="0.8" height="7" fill="#e8f6ff"/>
<rect x="89" y="2" width="5" height="1.6" fill="#e0f2ff"/>
<linearGradient id="cg" x1="0" y1="0" x2="0" y2="1"><stop offset="0" stop-color="#ffffff"/><stop offset="1" stop-color="#b8c6dc"/></linearGradient>
<path d="M84,12.3 C81.8,12.3 81.6,8.6 84,8.4 C84.2,6.6 86.6,6 88,7 C88.8,5.2 92.4,4.8 93.4,7 C95,6.2 97,7.4 96.6,9 C98.6,9.6 98.2,12.3 96,12.3 Z" fill="url(#cg)" stroke="#4a6498" stroke-width="0.9"/>
<!-- signal icon -->
<path d="M118,4.9 L118,12.8 A7.9,7.9 0 0 0 125.9,4.9 Z" fill="#cfe8cf" opacity="0.7"/>
<circle cx="118" cy="4.9" r="7.6" fill="none" stroke="#6a8ed8" stroke-width="0.9" opacity="0.75"/>
<circle cx="118" cy="4.9" r="4.6" fill="none" stroke="#7a9ee0" stroke-width="0.9" opacity="0.7"/>
<path d="M118,12.6 A7.7,7.7 0 0 0 125.7,4.9" fill="none" stroke="#3e9a4a" stroke-width="1.1"/>
<path d="M118,9.6 A4.7,4.7 0 0 0 122.7,4.9" fill="none" stroke="#6ab87a" stroke-width="1"/>
<circle cx="118" cy="4.9" r="1.7" fill="#1e50c8"/>
<rect x="117.5" y="5" width="1.4" height="7.8" fill="#14a014"/>
<!-- autotrading icon -->
<path d="M137.5,4.5 L152.3,3.8 L147,12.6 L145,12.6 Z" fill="#f4e060" stroke="#c8961c" stroke-width="0.7"/>
<ellipse cx="145" cy="1.2" rx="7.8" ry="3.3" fill="#62b6e8" stroke="#2a86b8" stroke-width="0.7"/>
<circle cx="149.5" cy="8.8" r="4.1" fill="#d82810" stroke="#b01808" stroke-width="0.6"/>
<rect x="148" y="7.3" width="3" height="3" fill="#fff"/>
<!-- CJK "auto trading" approximated -->
<g stroke="#1a1a1a" stroke-width="1" fill="none" shape-rendering="crispEdges" opacity="0.92">
  <path d="M159.5,-1v9.5h9v-9.5 M159.5,1.5h9 M159.5,4.5h9 M159.5,7.5h9"/>
  <path d="M170.5,2.5h5 M176,0.5h5.5 M180.5,0.5v8.5h-2 M177.5,0.5v3"/>
  <path d="M172.5,3.5l-1.5,4 M171,7.5l4,-1 M173.5,5.5l1.5,2.5 M177.5,3.5l-1.5,5" shape-rendering="auto"/>
  <path d="M182.5,0.5h11"/>
  <path d="M185,2.5l-2,1.5 M190.5,2.5l2,1.5 M185,4.5l7,4 M191,4.5l-7.5,4.5" shape-rendering="auto"/>
  <path d="M195.5,-1v2.5h8v-2.5 M194.5,4h10v4.5h-1.5"/>
  <path d="M197.5,4.5l-2.5,3.5 M200,4.5l-2.5,4 M202.5,4.5l-2.5,4 M197,1.5l-2.5,2" shape-rendering="auto"/>
</g>
<!-- separators and grips -->
<g shape-rendering="crispEdges">
<rect x="213" y="0" width="1" height="16" fill="#a0a0a0"/>
<rect x="214" y="0" width="1" height="16" fill="#ffffff"/>
<rect x="217" y="1" width="3" height="13" fill="url(#grip)"/>
<rect x="251" y="0" width="1" height="15" fill="#a0a0a0"/>
<rect x="252" y="0" width="1" height="15" fill="#fff"/>
<rect x="253" y="0" width="23" height="15" fill="#f6f6f6"/>
<rect x="308" y="0" width="1" height="15" fill="#a0a0a0"/>
<rect x="309" y="0" width="1" height="15" fill="#fff"/>
<rect x="398" y="0" width="1" height="15" fill="#a0a0a0"/>
<rect x="403" y="0" width="1" height="15" fill="#a0a0a0"/>
<rect x="404" y="0" width="25" height="15" fill="#f5f5f5"/>
<rect x="431" y="0" width="1" height="15" fill="#a0a0a0"/>
<rect x="432" y="0" width="25" height="15" fill="#f5f5f5"/>
<rect x="460" y="0" width="1" height="15" fill="#a0a0a0"/>
<rect x="581" y="0" width="1" height="17" fill="#a0a0a0"/>
<rect x="582" y="0" width="1" height="17" fill="#fff"/>
<rect x="585" y="1" width="3" height="13" fill="url(#grip)"/>
<rect x="591" y="0" width="1" height="15" fill="#a0a0a0"/>
<rect x="592" y="0" width="24" height="15" fill="#f6f6f6"/>
<rect x="648" y="0" width="1" height="15" fill="#a0a0a0"/>
<rect x="887" y="0" width="1" height="17" fill="#a0a0a0"/>
<rect x="888" y="0" width="1" height="17" fill="#fff"/>
<rect x="891" y="1" width="3" height="13" fill="url(#grip)"/>
<rect x="1037" y="0" width="1" height="15" fill="#a0a0a0"/>
<rect x="1038" y="0" width="24" height="15" fill="#f6f6f6"/>
<rect x="1148" y="0" width="1" height="17" fill="#a0a0a0"/>
<rect x="1149" y="0" width="1" height="17" fill="#fff"/>
</g>
<!-- bar chart icon -->
<g fill="none" stroke="#505050" stroke-width="1.2">
  <path d="M231.5,0v12.8 M229,10.5h12"/>
  <path d="M259.5,0v12.8 M257,10.5h12"/>
  <path d="M287.5,0v12.8 M285,10.5h12"/>
  <path d="M411.5,0v12.8 M409,10.5h12"/>
  <path d="M439.5,0v12.8 M437,10.5h12"/>
</g>
<g fill="#505050">
  <path d="M241,8.3 L243.5,10.5 L241,12.7 Z"/>
  <path d="M269,8.3 L271.5,10.5 L269,12.7 Z"/>
  <path d="M297,8.3 L299.5,10.5 L297,12.7 Z"/>
  <path d="M421,8.3 L423.5,10.5 L421,12.7 Z"/>
  <path d="M449,8.3 L451.5,10.5 L449,12.7 Z"/>
</g>
<path d="M237.5,0v8.6 M235,7.5h2.5 M237.5,1.5h2.6" stroke="#0e8a0e" stroke-width="1.1" fill="none"/>
<rect x="263.5" y="-1" width="4.5" height="7.5" fill="#3ee03e" stroke="#0e8a0e" stroke-width="0.9"/>
<path d="M265.7,6.5v2.3" stroke="#0e8a0e" stroke-width="1"/>
<path d="M286,7.5 C288.5,4 290,2 292,2 C294,2 295,4.5 297.5,6" fill="none" stroke="#1e8e1e" stroke-width="1"/>
<path d="M416,2 L420,4.5 L416,7 Z" fill="#20b020"/>
<path d="M445,0v10" stroke="#3070c0" stroke-width="1"/>
<path d="M446,4.5h5 M446,4.5l2.5,-2 M446,4.5l2.5,2" stroke="#e05010" stroke-width="1.2" fill="none"/>
<!-- zoom in / out -->
<path d="M327,6.5 L332.3,11.8" stroke="#a87410" stroke-width="3.4"/>
<path d="M327,6.5 L332.3,11.8" stroke="#f0d040" stroke-width="2"/>
<circle cx="323" cy="2.8" r="5.4" fill="#e4f4fc" stroke="#3a7ac4" stroke-width="1.1"/>
<path d="M319.5,2.8h7 M323,-0.7v7" stroke="#4a88b4" stroke-width="1.7"/>
<path d="M355,6.5 L360.3,11.8" stroke="#a87410" stroke-width="3.4"/>
<path d="M355,6.5 L360.3,11.8" stroke="#f0d040" stroke-width="2"/>
<circle cx="351" cy="2.8" r="5.4" fill="#e4f4fc" stroke="#3a7ac4" stroke-width="1.1"/>
<path d="M347.5,2.8h7" stroke="#4a88b4" stroke-width="1.7"/>
<!-- tile windows -->
<g shape-rendering="crispEdges">
<rect x="373" y="-1" width="8" height="5" fill="#3aa82a"/>
<rect x="381" y="-1" width="8" height="5" fill="#2a56d0"/>
<rect x="373" y="5" width="8" height="8" fill="#2a56d0"/>
<rect x="381" y="5" width="8" height="8" fill="#3aa82a"/>
<rect x="374" y="-1" width="6" height="4" fill="#fff"/>
<rect x="382" y="-1" width="6" height="4" fill="#fff"/>
<rect x="374" y="7" width="6" height="5" fill="#fff"/>
<rect x="382" y="7" width="6" height="5" fill="#fff"/>
<rect x="375" y="1" width="4" height="1" fill="#a8d8a0"/>
<rect x="383" y="1" width="4" height="1" fill="#a8b8f0"/>
<rect x="375" y="9" width="4" height="1" fill="#a8b8f0"/>
<rect x="383" y="9" width="4" height="1" fill="#a8d8a0"/>
</g>
<!-- new chart -->
<rect x="470.5" y="-1" width="11" height="11" fill="#f8f8f8" stroke="#808080" stroke-width="0.9"/>
<path d="M473.5,1v5.5 M473,6.5h2" stroke="#707070" stroke-width="0.8" fill="none"/>
<path d="M479.6,4v10.6 M474,9.3h11.2" stroke="#0a7a0a" stroke-width="4.6"/>
<path d="M479.6,4.8v9 M474.8,9.3h9.6" stroke="#34e034" stroke-width="2.8"/>
<path d="M492,4h5l-2.5,3z" fill="#111"/>
<!-- clock -->
<circle cx="515.8" cy="5" r="7.8" fill="#0c58b8"/>
<circle cx="515.8" cy="5" r="6.6" fill="#4a9ae8"/>
<circle cx="515.8" cy="5" r="5.3" fill="#f4f7fb"/>
<path d="M515.8,1v4h2.8" stroke="#222" stroke-width="1.1" fill="none"/>
<path d="M531,4h5l-2.5,3z" fill="#111"/>
<!-- templates -->
<rect x="547.5" y="0" width="15" height="11" fill="#fff" stroke="#3a6ad0" stroke-width="1"/>
<path d="M548,5.5h14" stroke="#3a6ad0" stroke-width="0.8"/>
<path d="M549,3.5l3,-1l3,0.5l3,-1l3,0" stroke="#c03020" stroke-width="0.9" fill="none"/>
<path d="M549,9l3,-1.5l3,1l3,-1.5l3,0.5" stroke="#20a020" stroke-width="0.9" fill="none"/>
<path d="M570,4h5l-2.5,3z" fill="#111"/>
<!-- cursor arrow -->
<path d="M599,0 L599,9 L601.5,7 L604,12 L606,11 L603.5,6.5 L607,6 Z" fill="#444"/>
<!-- crosshair -->
<path d="M624,5.5h6 M633,5.5h6 M631.5,0v4 M631.5,7v6" stroke="#555" stroke-width="1" shape-rendering="crispEdges"/>
<!-- vertical, horizontal, trend -->
<path d="M665.5,0v12" stroke="#555" stroke-width="1" shape-rendering="crispEdges"/>
<path d="M688,5.5h12" stroke="#555" stroke-width="1" shape-rendering="crispEdges"/>
<path d="M715.5,12 L728.5,0" stroke="#666" stroke-width="1"/>
<!-- channel E -->
<path d="M742.5,9.5 L751.5,0.5 M746,11.5 L755,2.5" stroke="#505050" stroke-width="1.1"/>
<path d="M744,7 L747.5,9.5 M746,5 L749.5,7.5 M748,3 L751.5,5.5 M750,1 L753.5,3.5" stroke="#505050" stroke-width="1"/>
<path d="M754.5,9v4.5 M754.5,9.5h3 M754.5,11.2h2.5 M754.5,13h3" stroke="#404040" stroke-width="1" fill="none" shape-rendering="crispEdges"/>
<!-- fibo F -->
<path d="M771,1.5h13 M771,5.5h13 M771,9.5h9" stroke="#666" stroke-width="0.9" stroke-dasharray="1,1" shape-rendering="crispEdges"/>
<path d="M782.5,13.5v-4.5 M782.5,9.5h3 M782.5,11.3h2.5" stroke="#404040" stroke-width="1" fill="none" shape-rendering="crispEdges"/>
<!-- A and T -->
<path d="M801.8,10 L805.6,1 L809.4,10 M803.3,7h4.7" stroke="#5a5a5a" stroke-width="1.5" fill="none"/>
<rect x="828.5" y="1.5" width="11" height="10" fill="none" stroke="#7a7a7a" stroke-width="0.8" stroke-dasharray="1,1"/>
<path d="M830.8,3.2h7.4 M834.5,3.2v6.8" stroke="#5a5a5a" stroke-width="1.8" fill="none"/>
<!-- arrows icon -->
<path d="M856,2 L858,0 L860,2 L858,4 Z M864,8 L866,6 L868.5,8.5 L866,11 Z" fill="#555"/>
<path d="M857,5 L860,8 L865,2" stroke="#555" stroke-width="1.3" fill="none"/>
<path d="M876,4h5l-2.5,3z" fill="#111"/>
<!-- periods -->
<g font-size="10.2" fill="#2a2a2a">
<text x="901.6" y="9.4">M1</text>
<text x="929.1" y="9.4">M5</text>
<text x="955.9" y="9.4">M15</text>
<text x="983.6" y="9.4">M30</text>
<text x="1014.6" y="9.4">H1</text>
<text x="1041.7" y="9.4">H4</text>
<text x="1070.7" y="9.4">D1</text>
<text x="1097.9" y="9.4">W1</text>
<text x="1124.7" y="9.4">MN</text>
</g>
<!-- search -->
<circle cx="1618.7" cy="2.4" r="3.6" fill="#f4f6ff" stroke="#2a64d0" stroke-width="1.3"/>
<path d="M1611.5,10 L1616,5.5" stroke="#2058c8" stroke-width="2.2"/>
<!-- notification -->
<path d="M1636,8 C1636,3 1646,2 1648,6 C1649,10 1643,12 1640,11.5 L1638,13.5 L1638.5,11 C1636.5,10.5 1636,9.5 1636,8 Z" fill="#dcdde6" stroke="#9a9a9a" stroke-width="0.8"/>
<circle cx="1649.6" cy="2.5" r="8" fill="#dd3018"/>
<path d="M1648.2,6.5h3.3 M1649.8,-2v8.5" stroke="#fff" stroke-width="1"/>
</g>
<defs>
<pattern id="grip" x="0" y="0" width="3" height="2" patternUnits="userSpaceOnUse">
<rect x="0" y="0" width="3" height="1" fill="#a8a8a8"/>
</pattern>
</defs>

</svg>
</body></html>
